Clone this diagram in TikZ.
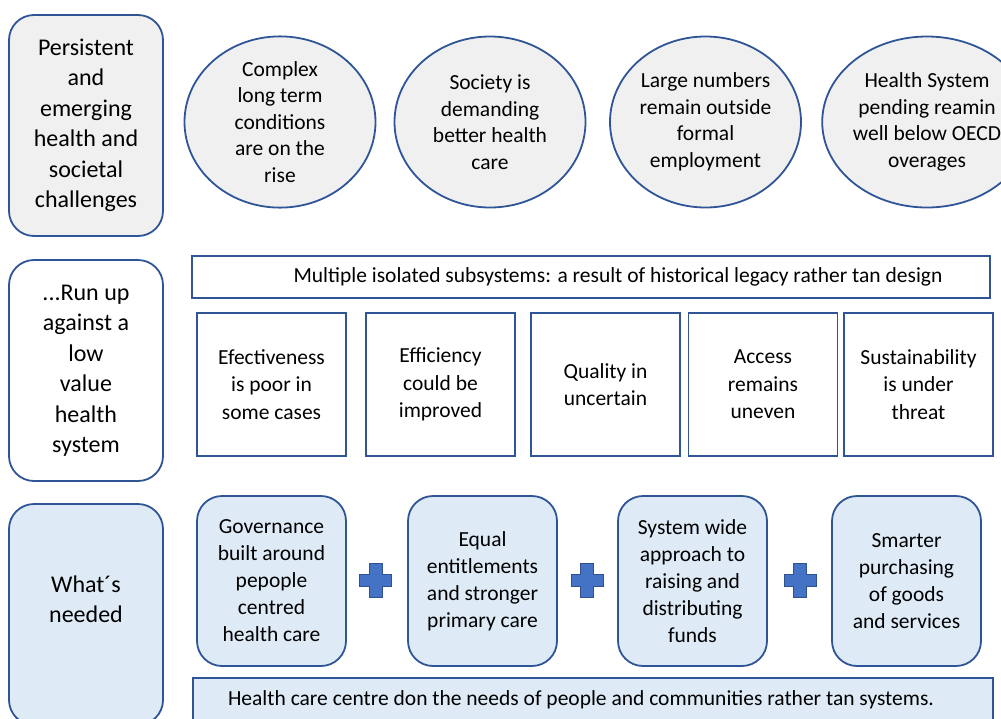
\documentclass[tikz,border=0pt]{standalone}
\usepackage{fontspec}
\setmainfont{Carlito}
\usetikzlibrary{shapes.geometric}
\definecolor{edgeblue}{RGB}{47,85,151}
\definecolor{plusblue}{RGB}{68,114,196}
\definecolor{plusedge}{RGB}{47,82,143}
\definecolor{softgray}{RGB}{240,240,240}
\definecolor{softblue}{RGB}{222,235,247}
\tikzset{
  rowhead/.style={rectangle,rounded corners=25pt,draw=edgeblue,line width=1.8pt,
    minimum width=154pt,minimum height=221pt,inner sep=0pt,align=center,
    font=\fontsize{24}{30.5}\selectfont},
  challenge/.style={ellipse,draw=edgeblue,line width=1.8pt,fill=softgray,
    minimum width=191pt,minimum height=171pt,inner sep=0pt,align=center,
    font=\fontsize{21.5}{26.5}\selectfont},
  banner/.style={rectangle,draw=edgeblue,line width=1.8pt,inner sep=0pt,
    align=center,font=\fontsize{21.5}{24}\selectfont},
  problem/.style={rectangle,draw=edgeblue,line width=1.8pt,fill=white,
    minimum width=149pt,minimum height=143pt,inner sep=0pt,align=center,
    font=\fontsize{21.5}{27.5}\selectfont},
  remedy/.style={rectangle,rounded corners=25pt,draw=edgeblue,line width=1.8pt,
    fill=softblue,minimum width=149pt,minimum height=170pt,inner sep=0pt,
    align=center,font=\fontsize{21.5}{27}\selectfont},
  plussign/.style={fill=plusblue,draw=plusedge,line width=0.8pt}
}

\begin{document}
\begin{tikzpicture}[x=1pt,y=-1pt]
\useasboundingbox (0,0) rectangle (1001,718);
\clip (0,0) rectangle (1001,718);

\node[rowhead,fill=softgray] (persist) at (86,125.5)
  {Persistent\\and\\emerging\\health and\\societal\\challenges};
\node[challenge] (complexc) at (280,122)
  {Complex\\long term\\conditions\\are on the\\rise};
\node[challenge] (society) at (490,122)
  {Society is\\demanding\\better health\\care};
\node[challenge] (informal) at (705.5,122)
  {Large numbers\\remain outside\\formal\\employment};
\node[challenge,minimum width=204pt] (spending) at (927,122)
  {Health System\\pending reamin\\well below OECD\\overages};

\node[rowhead,fill=white] (lowvalue) at (86,370.5)
  {...Run up\\against a\\low\\value\\health\\system};
\node[banner,fill=white,minimum width=798pt,minimum height=42pt] (subsys) at (591,277)
  {\hspace*{54pt}Multiple isolated subsystems: a result of historical legacy rather tan design};
\node[problem] (effect) at (271.5,384.5) {Efectiveness\\is poor in\\some cases};
\node[problem] (effic) at (440.5,384.5) {Efficiency\\could be\\improved};
\node[problem] (quality) at (605.5,384.5) {Quality in\\uncertain};
\node[problem] (access) at (763,384.5) {Access\\remains\\uneven};
\node[problem] (sustain) at (918.5,384.5) {Sustainability\\is under\\threat};

\node[rowhead,fill=softblue] (needed) at (86,614.5) {What´s\\needed\\[0pt]\mbox{}};
\node[remedy] (govern) at (271.5,581)
  {Governance\\built around\\pepople\\centred\\health care};
\node[remedy] (equal) at (482.5,581)
  {Equal\\entitlements\\and stronger\\primary care};
\node[remedy] (funds) at (692.5,581)
  {System wide\\approach to\\raising and\\distributing\\funds};
\node[remedy] (purchase) at (906.5,581)
  {Smarter\\purchasing\\of goods\\and services};
\node[banner,fill=softblue,minimum width=800pt,minimum height=44pt] (peoplebar) at (593,700)
  {Health care centre don the needs of people and communities rather tan systems.\hspace*{24pt}};

\foreach \px in {375.5,587,800}
  \draw[plussign] (\px,580) ++(-6.5,-17) -- ++(13,0) -- ++(0,11) -- ++(9.5,0)
    -- ++(0,12) -- ++(-9.5,0) -- ++(0,11) -- ++(-13,0) -- ++(0,-11)
    -- ++(-9.5,0) -- ++(0,-12) -- ++(9.5,0) -- cycle;
\end{tikzpicture}
\end{document}
